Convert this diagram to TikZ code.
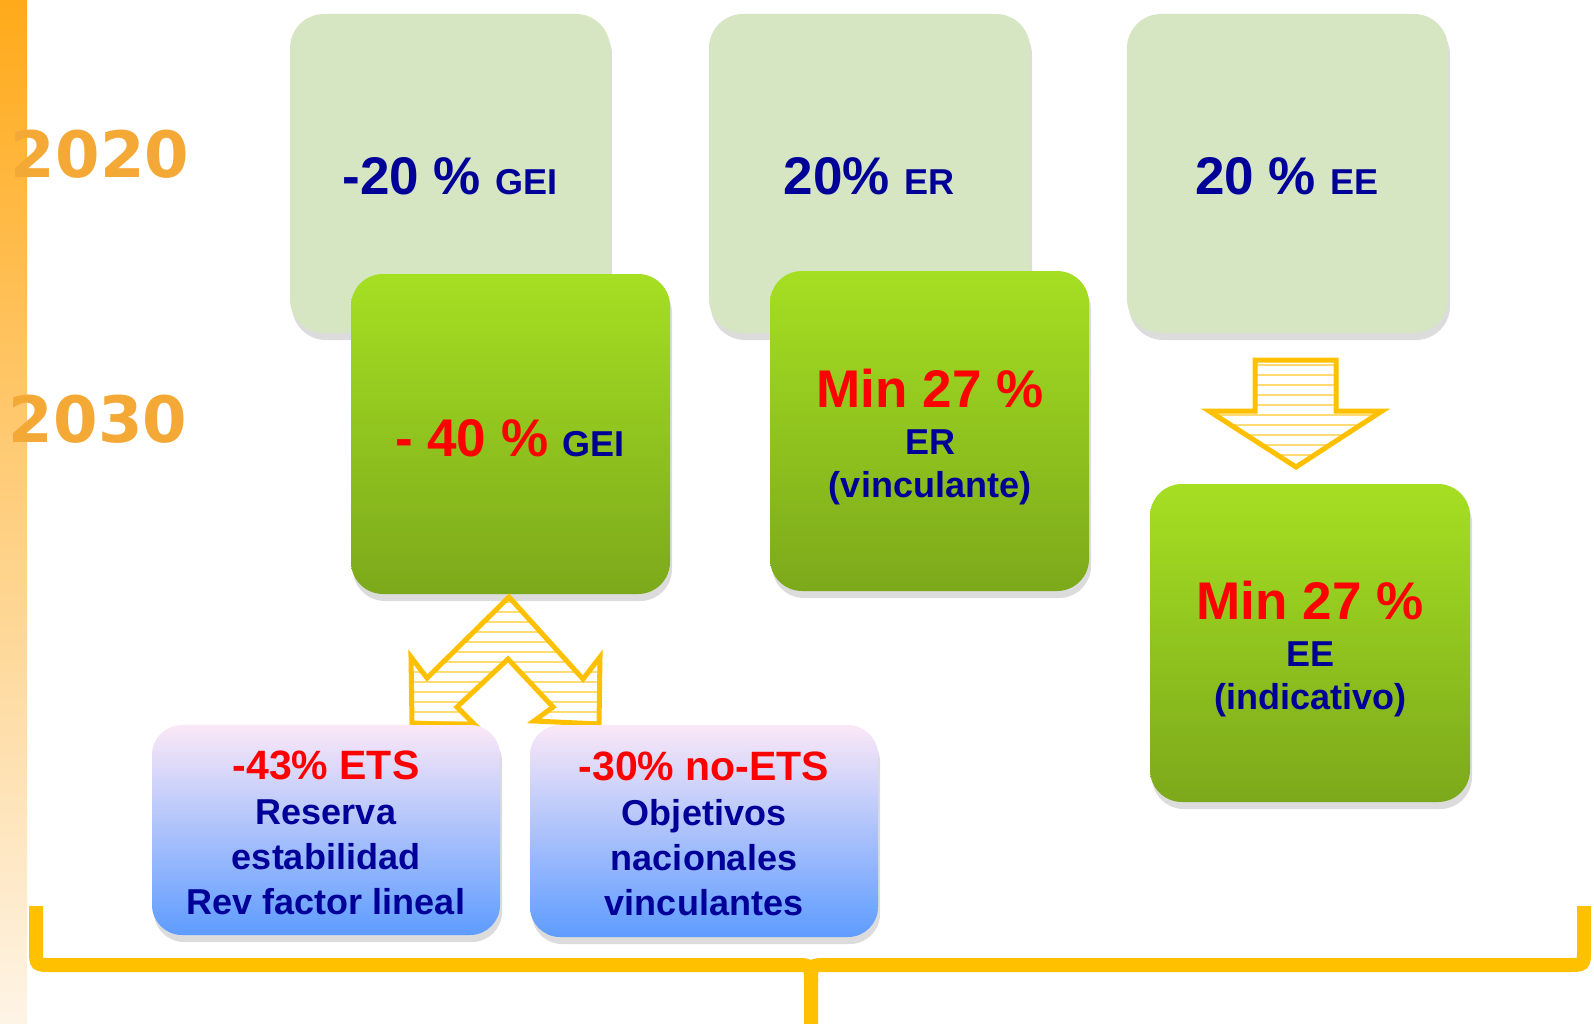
\documentclass[tikz,border=0pt]{standalone}
\usepackage{fontspec}
\setmainfont{Liberation Sans}
\newfontfamily\yearfont{DejaVu Sans}
\usetikzlibrary{shadows}

\definecolor{azulosc}{HTML}{000099}
\definecolor{rojo}{HTML}{FF0000}
\definecolor{naranja}{HTML}{F4A836}
\definecolor{amarillo}{HTML}{FFC000}
\definecolor{barrasup}{HTML}{FFAA1A}
\definecolor{barrainf}{HTML}{FEF4E6}
\definecolor{verdeclaro}{HTML}{D6E6C2}
\definecolor{verdesup}{HTML}{A5DF22}
\definecolor{verdeinf}{HTML}{7CA91B}
\definecolor{azulsup}{HTML}{FBE8F7}
\definecolor{azulmed}{HTML}{98C6F8}
\definecolor{azulinf}{HTML}{5E9CFF}

\newcommand{\pct}{\fontsize{53}{60}\selectfont}
\newcommand{\etq}{\fontsize{36}{43}\selectfont}
\newcommand{\etqazul}{\fontsize{36}{45}\selectfont}
\newcommand{\rojoets}{\fontsize{41}{46}\selectfont}

\tikzset{
    sombra/.style={drop shadow={shadow xshift=2pt, shadow yshift=-7pt, opacity=0.28}},
    caja2020/.style={fill=verdeclaro, rounded corners=34pt, sombra},
    caja2030/.style={top color=verdesup, bottom color=verdeinf, rounded corners=32pt, sombra},
    cajaazul/.style={top color=azulsup, middle color=azulmed, bottom color=azulinf,
        rounded corners=30pt, sombra},
    texto/.style={inner sep=0pt, text=azulosc, align=center, font=\bfseries\etq},
    textoazul/.style={texto, font=\bfseries\etqazul},
    anio/.style={anchor=base, inner sep=0pt, text=naranja,
        font=\yearfont\bfseries\fontsize{64}{70}\selectfont},
    flecha/.style={draw=amarillo, line width=5pt, line join=miter},
    rayas/.style={draw=amarillo!55, line width=2.5pt},
    llave/.style={draw=amarillo, line width=14pt}
}

\begin{document}
\begin{tikzpicture}[x=1pt,y=-1pt]
    % Marco fijo de la figura
    \useasboundingbox (0,0) rectangle (1594,1024);

    % Barra lateral
    \shade[top color=barrasup, bottom color=barrainf] (0,0) rectangle (27,1024);

    % Años
    \node[anio] (a2020) at (100,178) {2020};
    \node[anio] (a2030) at (98,442) {2030};

    % Objetivos 2020
    \path[caja2020] (450,333) -- (290,333) -- (290,14) -- (610,14) -- (610,333) -- cycle;
    \path[caja2020] (870,333) -- (709,333) -- (709,14) -- (1030,14) -- (1030,333) -- cycle;
    \path[caja2020] (1288,333) -- (1127,333) -- (1127,14) -- (1448,14) -- (1448,333) -- cycle;
    \node[texto, anchor=base] (gei20) at (450,195) {{\pct -20 \% }GEI};
    \node[texto, anchor=base] (er20) at (869,195) {{\pct 20\% }ER};
    \node[texto, anchor=base] (ee20) at (1287,195) {{\pct 20 \% }EE};

    % Flecha hacia abajo (EE)
    \begin{scope}
        \clip (1255,360) -- (1336,360) -- (1336,411) -- (1382,411) -- (1296,467)
            -- (1209,411) -- (1255,411) -- cycle;
        \foreach \y in {365,375,...,465}
            \draw[rayas] (1200,\y) -- (1390,\y);
    \end{scope}
    \draw[flecha] (1255,360) -- (1336,360) -- (1336,411) -- (1382,411) -- (1296,467)
        -- (1209,411) -- (1255,411) -- cycle;

    % Objetivos 2030
    \path[caja2030] (510,594) -- (351,594) -- (351,274) -- (670,274) -- (670,594) -- cycle;
    \path[caja2030] (930,591) -- (770,591) -- (770,271) -- (1089,271) -- (1089,591) -- cycle;
    \path[caja2030] (1310,802) -- (1150,802) -- (1150,484) -- (1470,484) -- (1470,802) -- cycle;
    \node[texto, anchor=base] (gei30) at (510,456) {{\pct\color{rojo}- 40 \% }GEI};
    \node[texto] (er30) at (930,437) {{\pct\color{rojo}Min 27 \%}\\[4pt] ER\\ (vinculante)};
    \node[texto] (ee30) at (1310,649) {{\pct\color{rojo}Min 27 \%}\\[4pt] EE\\ (indicativo)};

    % Flecha doble (reparto GEI)
    \begin{scope}
        \clip (509,597) -- (583,679) -- (600,657) -- (599,724) -- (534,721) -- (553,707)
            -- (508,659) -- (457,707) -- (475,725) -- (412,723) -- (411,657) -- (427,678) -- cycle;
        \foreach \y in {602,612,...,722}
            \draw[rayas] (400,\y) -- (610,\y);
    \end{scope}
    \draw[flecha] (509,597) -- (583,679) -- (600,657) -- (599,724) -- (534,721) -- (553,707)
        -- (508,659) -- (457,707) -- (475,725) -- (412,723) -- (411,657) -- (427,678) -- cycle;

    % Reparto ETS / no-ETS
    \path[cajaazul] (326,935) -- (152,935) -- (152,725) -- (500,725) -- (500,935) -- cycle;
    \path[cajaazul] (704,937) -- (530,937) -- (530,725) -- (878,725) -- (878,937) -- cycle;
    \node[textoazul] (ets) at (326,833) {{\rojoets\color{rojo}-43\% ETS}\\ Reserva\\ estabilidad\\ Rev factor lineal};
    \node[textoazul] (noets) at (704,834) {{\rojoets\color{rojo}-30\% no-ETS}\\ Objetivos\\ nacionales\\ vinculantes};

    % Llave inferior
    \draw[llave] (36,906) -- (36,950) .. controls (36,965) .. (52,965) -- (795,965)
        .. controls (811,965) .. (811,982) -- (811,1024);
    \draw[llave] (1584,906) -- (1584,950) .. controls (1584,965) .. (1568,965) -- (827,965)
        .. controls (811,965) .. (811,982);
\end{tikzpicture}
\end{document}
